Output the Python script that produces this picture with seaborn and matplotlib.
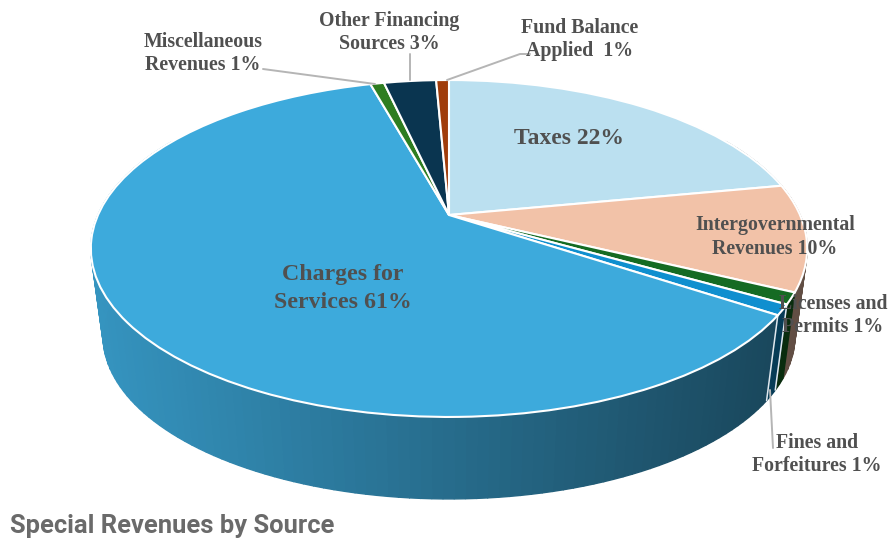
import numpy as np
import matplotlib
matplotlib.use("Agg")
import matplotlib.pyplot as plt
import matplotlib.colors as mcolors
from matplotlib.transforms import Transform
import seaborn as sns

categories = ["Taxes", "Intergovernmental Revenues", "Licenses and Permits", "Fines and Forfeitures",
              "Charges for Services", "Miscellaneous Revenues", "Other Financing Sources", "Fund Balance Applied"]
shares = [22.0, 10.2, 1.1, 1.0, 61.4, 0.75, 2.85, 0.7]
slice_colors = ["#BBE0F0", "#F2C2A8", "#156B23", "#0F8FCF", "#3DAADC", "#2E7D20", "#0A3550", "#A03C0A"]

TEXT_COLOR = "#505050"
LEADER_COLOR = "#b5b5b5"
KEYSTONE = 0.1988


class TiltedDisc(Transform):
    # unit pie circle -> perspective ellipse in pixel coordinates
    input_dims = 2
    output_dims = 2
    is_separable = False
    has_inverse = False

    def __init__(self, cx, cy, a, b):
        super().__init__()
        self.cx, self.cy, self.a, self.b = cx, cy, a, b

    def transform_non_affine(self, values):
        values = np.asarray(values, dtype=float)
        w = 1 + KEYSTONE * values[:, 1]
        return np.column_stack([self.cx + self.a * values[:, 0] / w,
                                self.cy - self.b * values[:, 1] / w])


sns.set_theme(style="white")
fig = plt.figure(figsize=(8.91, 5.41), dpi=100)
ax = fig.add_axes([0, 0, 1, 1])

top_disc = TiltedDisc(449, 215, 351, 161.8)
bottom_disc = TiltedDisc(449, 303.6, 339, 156.5)

# side wall, shaded darker from left to right
edges = np.cumsum([0] + shares) * 3.6
for i, color in enumerate(slice_colors):
    start, end = edges[i], edges[i + 1]
    if end < 60 or start > 300:
        continue
    start, end = max(start, 60), min(end, 300)
    grid = np.radians(np.linspace(start, end, max(2, int((end - start) / 1.5) + 1)))
    unit = np.column_stack([np.sin(grid), np.cos(grid)])
    upper = top_disc.transform_non_affine(unit)
    lower = bottom_disc.transform_non_affine(unit)
    base = np.array(mcolors.to_rgb(color))
    for j in range(len(grid) - 1):
        t = (upper[j:j + 2, 0].mean() - 91) / 716
        shade = base * (0.87 - 0.47 * t)
        xs = [upper[j, 0], upper[j + 1, 0], lower[j + 1, 0], lower[j, 0]]
        ys = [upper[j, 1], upper[j + 1, 1], lower[j + 1, 1], lower[j, 1]]
        ax.fill(xs, ys, color=shade, lw=1.0, zorder=3)

wedges, _ = ax.pie(shares, colors=slice_colors, startangle=90, counterclock=False, radius=1,
                   wedgeprops=dict(edgecolor="white", linewidth=1.5))
for w in wedges:
    w.set_transform(top_disc + ax.transData)
    w.set_zorder(4)

# white seams on the wall around the thin slices
for a in edges[3:5]:
    rad = np.radians(a)
    unit = np.array([[np.sin(rad), np.cos(rad)]])
    p, q = top_disc.transform_non_affine(unit)[0], bottom_disc.transform_non_affine(unit)[0]
    ax.plot([p[0], q[0]], [p[1], q[1]], color="#dfe8ee", lw=1.1, zorder=3.5)

ax.set_aspect("auto")
ax.set_xlim(0, 891)
ax.set_ylim(541, 0)
ax.axis("off")

# leader lines
ax.plot([263, 375], [69, 84], color=LEADER_COLOR, lw=1.4, zorder=5)
ax.plot([410, 410], [54, 80], color=LEADER_COLOR, lw=1.4, zorder=5)
ax.plot([447, 520, 530], [80, 54, 54], color=LEADER_COLOR, lw=1.4, zorder=5)
ax.plot([770, 773], [390, 448], color=LEADER_COLOR, lw=1.4, zorder=5)

font = dict(family="Liberation Serif", weight="bold", color=TEXT_COLOR, ha="center", va="center", zorder=6)
ax.text(569, 139, "Taxes 22%", fontsize=17, **font)
ax.text(343, 288.5, "Charges for\nServices 61%", fontsize=17.2, linespacing=1.4, **font)
ax.text(775, 237, "Intergovernmental\nRevenues 10%", fontsize=14.3, linespacing=1.26, **font)
ax.text(833, 315.5, "Licenses and\nPermits 1%", fontsize=14.3, linespacing=1.26, **font)
ax.text(817, 454.5, "Fines and\nForfeitures 1%", fontsize=14.3, linespacing=1.26, **font)
ax.text(203, 53.5, "Miscellaneous\nRevenues 1%", fontsize=14.3, linespacing=1.26, **font)
ax.text(389, 32.5, "Other Financing\nSources 3%", fontsize=14.3, linespacing=1.26, **font)
ax.text(580, 39.5, "Fund Balance\nApplied  1%", fontsize=14.3, linespacing=1.26, **font)

ax.text(10, 526.5, "Special Revenues by Source", family="Roboto", weight="bold", fontsize=18.4,
        color="#6a6a6a", ha="left", va="center", zorder=6)

fig.savefig("out.png", dpi=100, facecolor="white")
